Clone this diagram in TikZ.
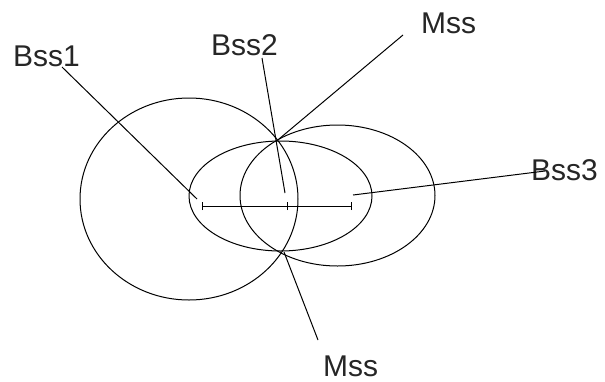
\documentclass[tikz,border=0pt]{standalone}
\usepackage{fontspec}
\setmainfont{Liberation Sans}
\begin{document}
\begin{tikzpicture}[x=1pt,y=-1pt,
  curve/.style={draw=black,line width=1pt},
  leader/.style={draw=black,line width=1pt},
  lbl/.style={inner sep=0pt,anchor=base west,text depth=0pt,font=\fontsize{30}{30}\selectfont,text=black!85}]
\useasboundingbox[fill=white] (0,0) rectangle (605,381);
% outlines
\draw[curve] (189,199) ellipse [x radius=109, y radius=101];
\draw[curve] (337.5,195.5) ellipse [x radius=97.5, y radius=70.5];
\draw[curve] (280.5,196) ellipse [x radius=91.5, y radius=55];
% bar with ticks
\coordinate (barL) at (202,206);
\coordinate (barM) at (287,206);
\coordinate (barR) at (351,206);
\draw[leader] (barL) -- (barR);
\draw[leader] ([yshift=-4]barL) -- ([yshift=4]barL);
\draw[leader] ([yshift=-4]barM) -- ([yshift=4]barM);
\draw[leader] ([yshift=-4]barR) -- ([yshift=4]barR);
% labels
\node[lbl] (bss1) at (13,66) {Bss1};
\node[lbl] (bss2) at (211,55) {Bss2};
\node[lbl] (mssT) at (421,33) {Mss};
\node[lbl] (bss3) at (531,180) {Bss3};
\node[lbl] (mssB) at (323,376) {Mss};
% leader ends
\coordinate (b1a) at (62,67);   \coordinate (b1b) at (197,199);
\coordinate (b2a) at (262,58);  \coordinate (b2b) at (285,193);
\coordinate (mta) at (403,35);  \coordinate (mtb) at (279,139);
\coordinate (b3a) at (545,171); \coordinate (b3b) at (353,195);
\coordinate (mba) at (318,340); \coordinate (mbb) at (284,252);
\draw[leader] (b1a) -- (b1b);
\draw[leader] (b2a) -- (b2b);
\draw[leader] (mta) -- (mtb);
\draw[leader] (b3a) -- (b3b);
\draw[leader] (mba) -- (mbb);
\end{tikzpicture}
\end{document}
